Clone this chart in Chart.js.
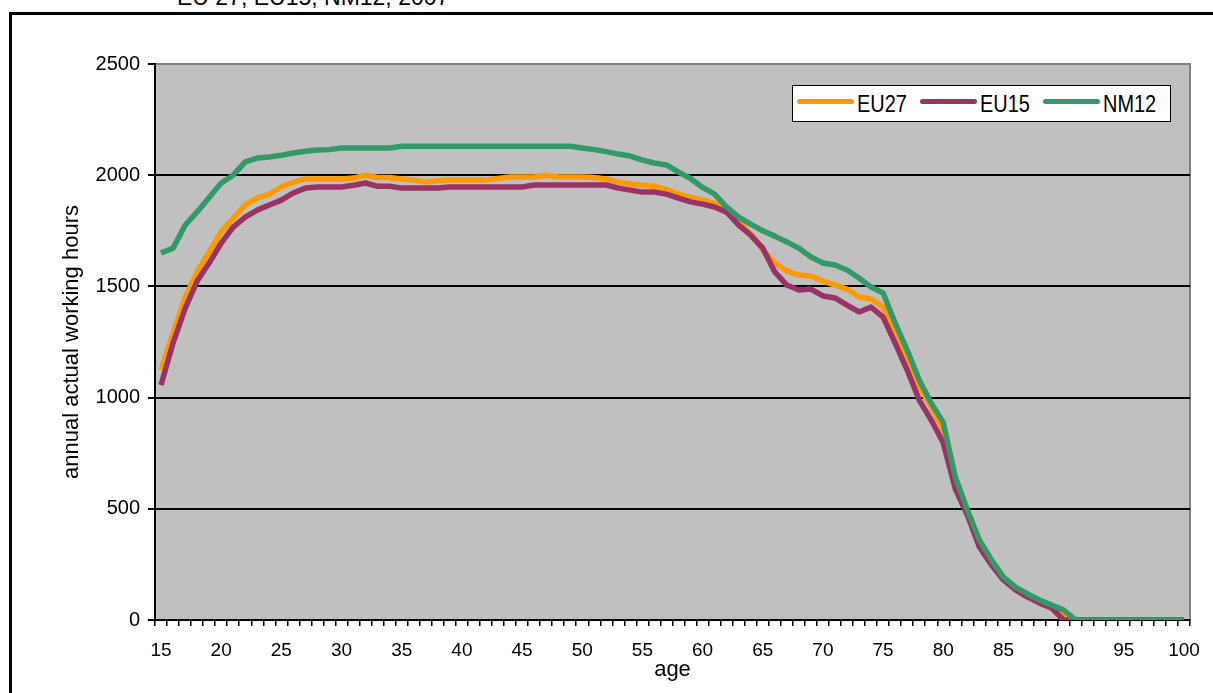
<!DOCTYPE html>
<html>
<head>
<meta charset="utf-8">
<script src="https://cdn.jsdelivr.net/npm/chart.js@4.4.1/dist/chart.umd.min.js"></script>
<style>
  body { margin: 0; width: 1213px; height: 693px; overflow: hidden; background: #fff; position: relative;
         font-family: "Liberation Sans", Arial, sans-serif; }
  #frame { position: absolute; left: 9px; top: 12px; width: 1400px; height: 900px; border: 3px solid #000; box-sizing: border-box; }
  #title { position: absolute; left: 177px; top: -14px; font-size: 23px; line-height: 23px; white-space: nowrap; color: #000; }
  #wrap { position: absolute; left: 0; top: 0; width: 1213px; height: 693px; }
  #legend { position: absolute; left: 792px; top: 85px; width: 379px; height: 37px; box-sizing: border-box;
            border: 1.5px solid #000; background: #fff; display: flex; align-items: center; padding-left: 4px; }
  .item { display: flex; align-items: center; width: 123px; }
  .swatch { width: 57px; height: 5px; border-radius: 3px; margin-right: 3px; margin-top: -4px; flex: none; }
  .lbl { display: inline-block; width: 52px; font-size: 24px; line-height: 24px; color: #000; white-space: nowrap;
         transform: scaleX(0.83); transform-origin: left center; }
</style>
</head>
<body>
<div id="frame"></div>
<div id="title">EU 27, EU15, NM12, 2007</div>
<div id="wrap"><canvas id="myChart" width="1213" height="693"></canvas></div>
<div id="legend"></div>
<script>
// ages 15..100
const ages = [];
for (let a = 15; a <= 100; a++) ages.push(a);

const xTickLabels = [15, 20, 25, 30, 35, 40, 45, 50, 55, 60, 65, 70, 75, 80, 85, 90, 95, 100];
const yTicks = [0, 500, 1000, 1500, 2000, 2500];

const seriesNames = ["EU27", "EU15", "NM12"];
const seriesColors = ["#ff9900", "#993366", "#339966"];

const eu27 = [1124, 1290, 1450, 1565, 1655, 1745, 1807, 1866, 1897, 1915,
  1947, 1969, 1983, 1983, 1983, 1983, 1987, 2000, 1990, 1990,
  1983, 1978, 1969, 1975, 1978, 1978, 1978, 1978, 1985, 1992,
  1992, 1992, 2000, 1992, 1992, 1992, 1990, 1983, 1969, 1960,
  1955, 1950, 1935, 1915, 1900, 1888, 1873, 1843, 1790, 1735,
  1665, 1605, 1569, 1551, 1547, 1524, 1506, 1488, 1452, 1443,
  1407, 1290, 1169, 1048, 958, 855, 615, 480, 345, 258,
  188, 142, 110, 82, 58, 25, 0, 0, 0, 0,
  0, 0, 0, 0, 0, 0];

const eu15 = [1057, 1245, 1400, 1524, 1605, 1695, 1767, 1812, 1843, 1866,
  1888, 1920, 1942, 1947, 1947, 1947, 1955, 1965, 1950, 1950,
  1942, 1942, 1942, 1942, 1947, 1947, 1947, 1947, 1947, 1947,
  1947, 1956, 1956, 1956, 1956, 1956, 1956, 1956, 1942, 1933,
  1924, 1924, 1915, 1897, 1880, 1870, 1857, 1834, 1776, 1731,
  1672, 1565, 1506, 1484, 1488, 1457, 1448, 1416, 1385, 1407,
  1362, 1245, 1124, 989, 899, 796, 590, 472, 328, 247,
  180, 135, 103, 76, 54, 0, 0, 0, 0, 0,
  0, 0, 0, 0, 0, 0];

const nm12 = [1650, 1672, 1775, 1835, 1900, 1965, 2000, 2060, 2077, 2082,
  2090, 2100, 2108, 2113, 2115, 2122, 2122, 2122, 2122, 2122,
  2130, 2130, 2130, 2130, 2130, 2130, 2130, 2130, 2130, 2130,
  2130, 2130, 2130, 2130, 2130, 2122, 2115, 2106, 2095, 2086,
  2068, 2055, 2046, 2014, 1985, 1945, 1915, 1857, 1812, 1780,
  1750, 1726, 1700, 1672, 1632, 1605, 1596, 1574, 1538, 1497,
  1470, 1335, 1214, 1079, 975, 888, 643, 495, 360, 270,
  193, 148, 117, 90, 67, 45, 0, 0, 0, 0,
  0, 0, 0, 0, 0, 0];

const seriesData = [eu27, eu15, nm12];

// legend
const legend = document.getElementById("legend");
seriesNames.forEach((name, i) => {
  const item = document.createElement("div");
  item.className = "item";
  item.innerHTML = '<div class="swatch" style="background:' + seriesColors[i] + '"></div><span class="lbl">' + name + '</span>';
  legend.appendChild(item);
});

// gray plot area + border
const plotBg = {
  id: "plotBg",
  beforeDraw(chart) {
    const { ctx, chartArea: { left, top, width, height } } = chart;
    ctx.save();
    ctx.fillStyle = "#c0c0c0";
    ctx.fillRect(left, top, width, height);
    ctx.strokeStyle = "#808080";
    ctx.lineWidth = 2;
    ctx.strokeRect(left, top, width, height);
    ctx.restore();
  }
};

Chart.defaults.font.family = '"Liberation Sans", Arial, sans-serif';
Chart.defaults.color = "#000";

const ctx = document.getElementById("myChart");
new Chart(ctx, {
  type: "line",
  data: {
    labels: ages,
    datasets: seriesNames.map((name, i) => ({
      label: name,
      data: seriesData[i],
      borderColor: seriesColors[i],
      backgroundColor: seriesColors[i],
      borderWidth: 5.5,
      pointRadius: 0,
      tension: 0,
      borderJoinStyle: "round",
      order: 3 - i
    }))
  },
  plugins: [plotBg],
  options: {
    responsive: false,
    animation: false,
    devicePixelRatio: 1,
    events: [],
    layout: { padding: { left: 50, top: 64, right: 23, bottom: 0 } },
    plugins: { legend: { display: false }, tooltip: { enabled: false } },
    scales: {
      x: {
        type: "category",
        offset: true,
        grid: { offset: true, drawOnChartArea: false, drawTicks: true, tickLength: 6, color: "#000", lineWidth: 1.5 },
        border: { color: "#000", width: 2 },
        ticks: {
          autoSkip: false, maxRotation: 0, minRotation: 0, padding: 13,
          font: { size: 19 },
          callback: function (v, i) { return xTickLabels.includes(ages[i]) ? String(ages[i]) : ""; }
        },
        title: { display: true, text: "age", font: { size: 22 }, padding: { top: 0, bottom: 10 } },
        afterFit(s) { s.height = 73; }
      },
      y: {
        min: 0,
        max: 2500,
        afterBuildTicks(s) { s.ticks = yTicks.map(v => ({ value: v })); },
        grid: {
          color: c => (c.tick && c.tick.value === 2500 ? "#808080" : "#000"),
          tickColor: "#000", tickLength: 7, lineWidth: 2
        },
        border: { color: "#000", width: 2 },
        ticks: { padding: 8, font: { size: 20 }, callback: v => String(v) },
        title: { display: true, text: "annual actual working hours", font: { size: 22 }, padding: { top: 9, bottom: 0 } },
        afterFit(s) { s.width = 105; }
      }
    }
  }
});
</script>
</body>
</html>
